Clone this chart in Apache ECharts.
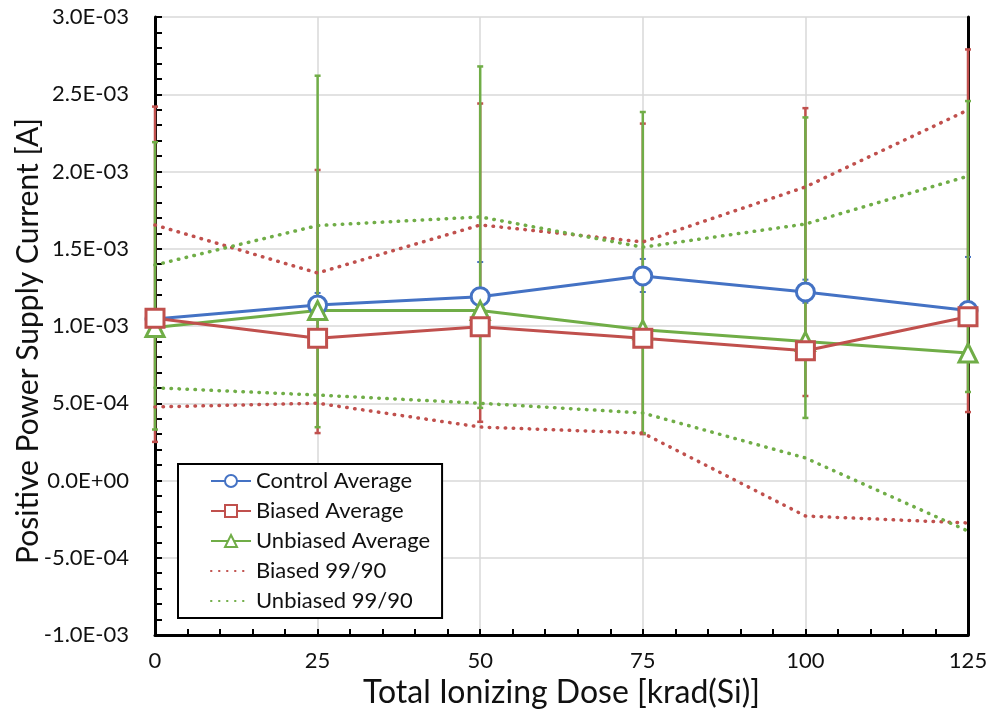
<!DOCTYPE html>
<html>
<head>
<meta charset="utf-8">
<script src="https://cdn.jsdelivr.net/npm/echarts@6/dist/echarts.min.js"></script>
<style>
  html, body { margin: 0; padding: 0; background: #fff; }
  #picture { width: 990px; height: 717px; }
</style>
</head>
<body>
<div id="picture"></div>
<script>
// dose steps, krad(Si)
var dose = [0, 25, 50, 75, 100, 125];

// averages [A]
var controlAvg  = [1.045e-3, 1.136e-3, 1.19e-3, 1.324e-3, 1.22e-3, 1.10e-3];
var biasedAvg   = [1.05e-3, 0.92e-3, 0.995e-3, 0.92e-3, 0.84e-3, 1.06e-3];
var unbiasedAvg = [0.99e-3, 1.10e-3, 1.10e-3, 0.975e-3, 0.90e-3, 0.825e-3];

// error bar ends
var controlHigh  = [1.10e-3, 1.214e-3, 1.414e-3, 1.434e-3, 1.30e-3, 1.447e-3];
var controlLow   = [1.00e-3, 1.06e-3, 0.98e-3, 1.22e-3, 1.15e-3, 0.81e-3];
var biasedHigh   = [2.42e-3, 2.01e-3, 2.44e-3, 2.31e-3, 2.41e-3, 2.79e-3];
var biasedLow    = [0.25e-3, 0.307e-3, 0.38e-3, 0.30e-3, 0.547e-3, 0.443e-3];
var unbiasedHigh = [2.19e-3, 2.62e-3, 2.68e-3, 2.385e-3, 2.35e-3, 2.456e-3];
var unbiasedLow  = [0.33e-3, 0.345e-3, 0.47e-3, 0.307e-3, 0.405e-3, 0.573e-3];

// 99/90 limits
var biasedUpper   = [1.654e-3, 1.343e-3, 1.654e-3, 1.544e-3, 1.90e-3, 2.398e-3];
var biasedLower   = [0.476e-3, 0.50e-3, 0.346e-3, 0.307e-3, -0.23e-3, -0.275e-3];
var unbiasedUpper = [1.395e-3, 1.65e-3, 1.706e-3, 1.51e-3, 1.66e-3, 1.97e-3];
var unbiasedLower = [0.60e-3, 0.553e-3, 0.50e-3, 0.437e-3, 0.146e-3, -0.327e-3];

var BLUE = '#4472C4', RED = '#C0504D', GREEN = '#70AD47';
var FONT = 'Lato';

function pairs(ys) {
    return dose.map(function (x, i) { return [x, ys[i]]; });
}
function bars(lo, hi) {
    return dose.map(function (x, i) { return [x, lo[i], hi[i]]; });
}
function sciLabel(v) {
    if (Math.abs(v) < 1e-12) v = 0;
    var m = v.toExponential(1).split('e');
    var e = parseInt(m[1], 10);
    var a = Math.abs(e);
    return m[0] + 'E' + (e < 0 ? '-' : '+') + (a < 10 ? '0' : '') + a;
}

function errorBar(color, width) {
    return function (params, api) {
        var top = api.coord([api.value(0), api.value(2)]);
        var bot = api.coord([api.value(0), api.value(1)]);
        var st = { stroke: color, lineWidth: width };
        var cw = 3;
        return {
            type: 'group',
            children: [
                { type: 'line', shape: { x1: top[0], y1: top[1], x2: bot[0], y2: bot[1] }, style: st },
                { type: 'line', shape: { x1: top[0] - cw, y1: top[1], x2: top[0] + cw, y2: top[1] }, style: st },
                { type: 'line', shape: { x1: bot[0] - cw, y1: bot[1], x2: bot[0] + cw, y2: bot[1] }, style: st }
            ]
        };
    };
}

function avgSeries(name, ys, color, symbol, size) {
    return {
        name: name, type: 'line', data: pairs(ys), z: 5,
        symbol: symbol, symbolSize: size, showSymbol: true,
        lineStyle: { color: color, width: 3 },
        itemStyle: { color: '#fff', borderColor: color, borderWidth: 3 }
    };
}
function dotSeries(name, ys, color) {
    return {
        name: name, type: 'line', data: pairs(ys), z: 3,
        symbol: 'none',
        lineStyle: { color: color, width: 3.5, type: [0.5, 7.5], cap: 'round' },
        itemStyle: { color: 'transparent', borderWidth: 0 }
    };
}
function barSeries(lo, hi, color, w) {
    return {
        type: 'custom', data: bars(lo, hi), z: 2, silent: true,
        renderItem: errorBar(color, w),
        encode: { x: 0, y: [1, 2] }
    };
}

var myChart = echarts.init(document.getElementById('picture'));
var option = {
    backgroundColor: '#fff',
    animation: false,
    textStyle: { fontFamily: FONT },
    grid: { left: 155, right: 22, top: 17, bottom: 82, outerBoundsMode: 'none', containLabel: false },
    legend: {
        orient: 'vertical',
        left: 178, top: 464,
        padding: [6, 12, 6, 32],
        borderColor: '#000', borderWidth: 2,
        backgroundColor: '#fff',
        itemWidth: 40, itemHeight: 15, itemGap: 8,
        textStyle: { fontFamily: FONT, fontSize: 22, color: '#111' },
        data: ['Control Average', 'Biased Average', 'Unbiased Average', 'Biased 99/90', 'Unbiased 99/90']
    },
    xAxis: {
        type: 'value', min: 0, max: 125, interval: 25,
        name: 'Total Ionizing Dose [krad(Si)]', nameLocation: 'middle', nameGap: 42,
        nameTextStyle: { fontFamily: FONT, fontSize: 32, color: '#111' },
        axisLine: { onZero: false, lineStyle: { color: '#000', width: 3 } },
        axisTick: { inside: true, length: 6, lineStyle: { color: '#000', width: 2 } },
        minorTick: { show: true, splitNumber: 5, length: 6, lineStyle: { color: '#000', width: 2 } },
        axisLabel: { fontFamily: FONT, fontSize: 22, color: '#111', margin: 15 },
        splitLine: { show: true, lineStyle: { color: '#d9d9d9', width: 1.5 } }
    },
    yAxis: [{
        type: 'value', min: -1e-3, max: 3e-3, interval: 5e-4,
        name: 'Positive Power Supply Current [A]', nameLocation: 'middle', nameGap: 112,
        nameMoveOverlap: false,
        nameTextStyle: { fontFamily: FONT, fontSize: 30, color: '#111', padding: [0, 30, 0, 0] },
        axisLine: { show: true, onZero: false, lineStyle: { color: '#000', width: 3 } },
        axisTick: { show: true, inside: true, length: 7, lineStyle: { color: '#000', width: 2 } },
        minorTick: { show: true, splitNumber: 5, length: 7, lineStyle: { color: '#000', width: 2 } },
        axisLabel: { fontFamily: FONT, fontSize: 22, color: '#111', margin: 26, formatter: sciLabel },
        splitLine: { show: true, lineStyle: { color: '#d9d9d9', width: 1.5 } }
    }, {
        type: 'value', min: -1e-3, max: 3e-3, interval: 5e-4, position: 'right',
        axisLine: { show: true, onZero: false, lineStyle: { color: '#000', width: 3 } },
        axisTick: { show: false }, axisLabel: { show: false }, splitLine: { show: false }
    }],
    series: [
        barSeries(controlLow, controlHigh, BLUE, 2),
        barSeries(biasedLow, biasedHigh, RED, 2.5),
        barSeries(unbiasedLow, unbiasedHigh, GREEN, 2.5),
        dotSeries('Biased 99/90', biasedUpper, RED),
        dotSeries('Biased 99/90', biasedLower, RED),
        dotSeries('Unbiased 99/90', unbiasedUpper, GREEN),
        dotSeries('Unbiased 99/90', unbiasedLower, GREEN),
        avgSeries('Control Average', controlAvg, BLUE, 'circle', 18),
        avgSeries('Unbiased Average', unbiasedAvg, GREEN, 'triangle', 18),
        avgSeries('Biased Average', biasedAvg, RED, 'rect', 18)
    ]
};
myChart.setOption(option);
</script>
</body>
</html>
